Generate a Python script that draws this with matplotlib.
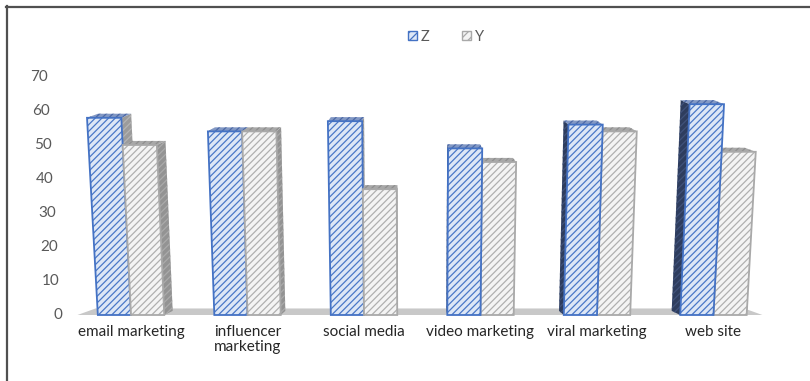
import matplotlib
matplotlib.use("Agg")
import matplotlib.pyplot as plt
from matplotlib.patches import Polygon, Patch
from matplotlib.lines import Line2D

# ---- data -------------------------------------------------------------
categories = ["email marketing", "influencer\nmarketing", "social media",
              "video marketing", "viral marketing", "web site"]
z_values = [58, 54, 57, 49, 56, 62]
y_values = [50, 54, 37, 45, 54, 48]
series_names = ["Z", "Y"]
y_ticks = [0, 10, 20, 30, 40, 50, 60, 70]

# ---- style --------------------------------------------------------------
plt.rcParams["font.family"] = ["Lato", "DejaVu Sans"]
plt.rcParams["hatch.linewidth"] = 0.9

BAR_W = 0.285          # width of one bar in category units
XV = 2.48              # horizontal vanishing point (category units)
SKEW = 5.8e-4          # perspective lean of the bars
DEPTH = 0.033          # horizontal shift of back faces toward the centre
DY = 1.2               # vertical shift of back faces (value units)
AXIS_X = -0.593        # position of the (invisible) value axis
HATCH = "/////"

Z_STYLE = dict(face="#dde7f6", hatch="#4a78c8", edge="#4472c4",
               top_face="#8298c4", top_hatch="#4b68a6",
               left_face="#2e3d5e", left_hatch="#40527a",
               right_face="#9b9b9b", right_hatch="#b4b4b4")
Y_STYLE = dict(face="#f4f4f4", hatch="#b0b0b0", edge="#a9a9a9",
               top_face="#a8a8a8", top_hatch="#8e8e8e",
               left_face="#9a9a9a", left_hatch="#b2b2b2",
               right_face="#939393", right_hatch="#ababab")

fig = plt.figure(figsize=(8.1, 3.81), dpi=100)
fig.patch.set_facecolor("white")
ax = fig.add_axes([70 / 810, 66 / 381, 720 / 810, 238 / 381])
ax.set_xlim(-0.524, 5.657)
ax.set_ylim(0, 70)
for s in ax.spines.values():
    s.set_visible(False)


def front(x, v):
    """Point on a bar's front face, leaning away from the vanishing point."""
    return (x + SKEW * (x - XV) * v, v)


def back(p, scale=1.0):
    x, v = p
    return (x - DEPTH * scale * (x - XV), v + DY * scale)


def face(pts, fc, hc, z):
    ax.add_patch(Polygon(pts, closed=True, facecolor=fc, edgecolor=hc,
                         hatch=HATCH, lw=0, zorder=z, clip_on=False))


def draw_bar(x0, x1, v, st, z):
    bl, br, tr, tl = front(x0, 0), front(x1, 0), front(x1, v), front(x0, v)
    centre = 0.5 * (x0 + x1)
    # side face
    if centre < XV:
        face([br, tr, back(tr), back(br)], st["right_face"], st["right_hatch"], z)
    else:
        face([bl, tl, back(tl), back(bl)], st["left_face"], st["left_hatch"], z)
    # top face
    face([tl, tr, back(tr), back(tl)], st["top_face"], st["top_hatch"], z)
    # front face
    face([bl, br, tr, tl], st["face"], st["hatch"], z + 0.1)
    ax.add_patch(Polygon([bl, br, tr, tl], closed=True, fill=False,
                         edgecolor=st["edge"], lw=1.3, zorder=z + 0.2,
                         clip_on=False))


# floor
f0, f1 = (-0.46, 0), (5.42, 0)
floor = [f0, f1, back(f1, 1.6), back(f0, 1.6)]
ax.add_patch(Polygon(floor, closed=True, facecolor="#c8c8c8",
                     edgecolor="none", zorder=1, clip_on=False))

# bars; outer side faces are hidden by the neighbouring bar
z = 2
for i, (zv, yv) in enumerate(zip(z_values, y_values)):
    z_bar = (i - BAR_W, i, zv, Z_STYLE)
    y_bar = (i, i + BAR_W, yv, Y_STYLE)
    order = [z_bar, y_bar] if i < XV else [y_bar, z_bar]
    for x0, x1, v, st in order:
        draw_bar(x0, x1, v, st, z)
        z += 1

# value labels follow the leaning axis line
ax.set_yticks([])
for t in y_ticks:
    xp, yp = front(AXIS_X, t)
    ax.text(xp, yp, str(t), ha="right", va="center", fontsize=11,
            color="#595959", clip_on=False)

ax.set_xticks(range(len(categories)))
ax.set_xticklabels(categories, linespacing=1.15)
ax.tick_params(axis="x", length=0, pad=7, labelsize=11, labelcolor="#262626")

# legend
handles = [Patch(facecolor=Z_STYLE["face"], edgecolor=Z_STYLE["edge"], hatch="////"),
           Patch(facecolor=Y_STYLE["face"], edgecolor=Y_STYLE["edge"], hatch="////")]
fig.legend(handles, series_names, loc="center", bbox_to_anchor=(446 / 810, 1 - 37 / 381),
           ncol=2, frameon=False, handlelength=0.6, handleheight=0.6,
           handletextpad=0.3, columnspacing=2.2, fontsize=10.5,
           labelcolor="#595959")

# frame (top and left edges)
fig.add_artist(Line2D([6 / 810, 1], [1 - 7 / 381] * 2, transform=fig.transFigure,
                      color="#505050", lw=1.6))
fig.add_artist(Line2D([7 / 810] * 2, [0, 1 - 6 / 381], transform=fig.transFigure,
                      color="#505050", lw=1.6))

fig.savefig("out.png", dpi=100, facecolor="white")
